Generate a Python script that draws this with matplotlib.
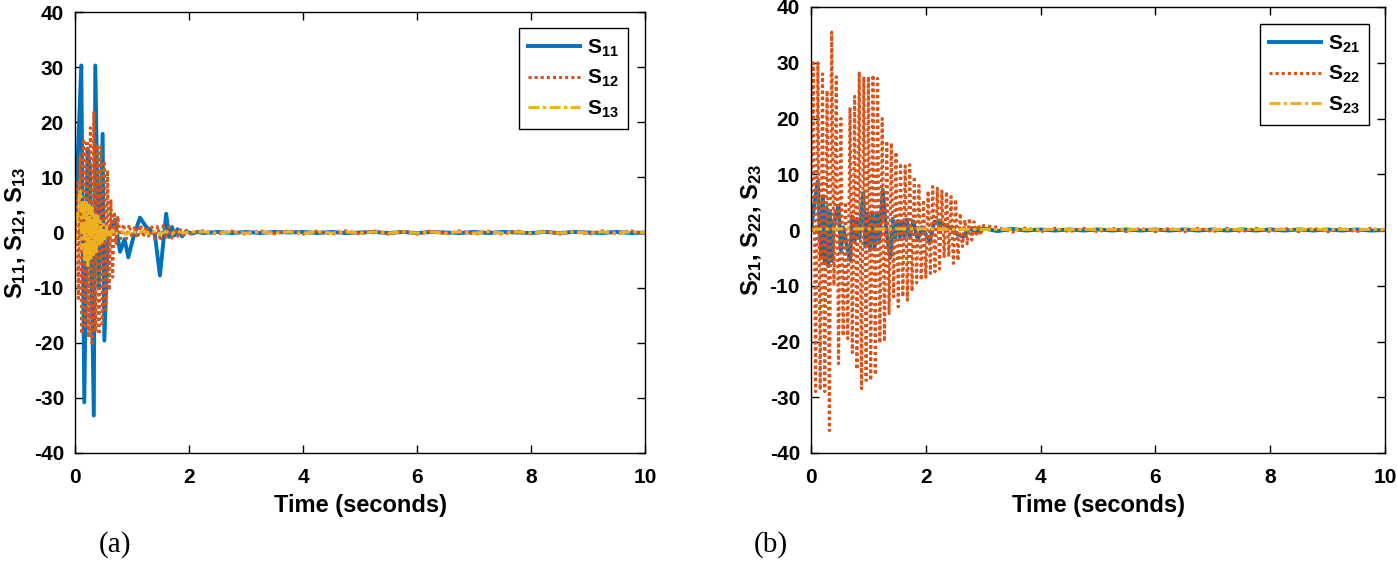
import matplotlib
matplotlib.use('Agg')
import matplotlib.pyplot as plt

# ---------------- data: panel (a) ----------------
s11_t = [0.0, 0.11, 0.163, 0.22, 0.26, 0.33, 0.356, 0.42, 0.485, 0.515, 0.58, 0.70, 0.79, 0.87,
         0.935, 1.02, 1.14, 1.25, 1.40, 1.49, 1.60, 1.65, 1.70, 1.75, 1.80, 1.88, 1.95, 2.05, 2.15]
s11_v = [0.3, 30.3, -30.8, 15.2, 12.0, -33.2, 30.3, -10.0, 17.9, -19.6, 0.0, 2.3, -3.5, -1.2,
         -4.5, -1.0, 2.7, 1.0, -0.3, -7.8, 3.4, -0.8, 1.0, -0.5, 0.6, -0.7, 0.2, -0.2, 0.1]

s12_t = [0.0, 0.03, 0.06, 0.09, 0.12, 0.15, 0.18, 0.21, 0.24, 0.27, 0.30, 0.33, 0.36, 0.39, 0.42,
         0.45, 0.48, 0.51, 0.54, 0.57, 0.60, 0.63, 0.66, 0.69, 0.72, 0.75, 0.80, 0.85, 0.90, 0.95,
         1.00, 1.05, 1.10, 1.15, 1.20, 1.25, 1.30, 1.35, 1.40, 1.45, 1.50, 1.55, 1.60, 1.65, 1.70,
         1.75, 1.80, 1.85, 1.90, 1.95, 2.00]
s12_v = [0.0, 9.0, -12.0, 14.0, -18.4, 17.0, -17.0, 16.7, -19.0, 19.0, -20.5, 21.8, -18.0, 16.0,
         -18.5, 15.5, -17.0, 13.0, -14.0, 11.3, -10.5, 6.0, -8.1, 3.7, -2.0, 3.0, -1.1, 1.5, -1.2,
         1.4, -0.9, 1.2, -1.0, 1.4, -0.8, 1.1, -0.9, 1.0, -1.2, 1.1, -1.5, 1.3, -0.9, 1.0, -1.0,
         0.7, -0.7, 0.5, -0.5, 0.4, -0.3]

s13_t = [0.0, 0.025, 0.05, 0.075, 0.1, 0.125, 0.15, 0.175, 0.2, 0.225, 0.25, 0.275, 0.3, 0.325,
         0.35, 0.375, 0.4, 0.425, 0.45, 0.475, 0.5, 0.525, 0.55, 0.575, 0.6, 0.625, 0.65,
         0.7, 0.8, 0.9, 1.0, 1.1, 1.2, 1.3, 1.4, 1.5, 1.6, 1.7, 1.8, 1.9, 2.0]
s13_v = [-2.0, 1.0, 4.0, 6.5, 7.5, -3.0, 6.0, -5.5, 5.5, -6.0, 5.0, -5.0, 4.5, -4.0, 3.5, -3.5,
         3.0, -2.5, 2.0, -2.0, 1.5, -1.2, 1.0, -0.8, 0.6, -0.5, 0.4,
         -0.3, 0.3, -0.3, 0.3, -0.2, 0.3, -0.2, 0.2, -0.3, 0.2, -0.2, 0.2, -0.1, 0.1]

tail_t_a = [2.25, 2.5, 2.75, 3.0, 3.25, 3.5, 3.75, 4.0, 4.25, 4.5, 4.75, 5.0, 5.25, 5.5, 5.75, 6.0,
            6.25, 6.5, 6.75, 7.0, 7.25, 7.5, 7.75, 8.0, 8.25, 8.5, 8.75, 9.0, 9.25, 9.5, 9.75, 10.0]
s11_tail = [-0.1, 0.1, -0.1, 0.1, -0.1, 0.1, 0.0, 0.1, -0.1, 0.1, -0.1, 0.0, 0.1, -0.1, 0.1, -0.1,
            0.1, 0.0, -0.1, 0.1, -0.1, 0.1, 0.0, -0.1, 0.1, -0.1, 0.1, 0.0, -0.1, 0.1, -0.1, 0.0]
s12_tail = [0.3, -0.3, 0.25, -0.3, 0.3, -0.25, 0.3, -0.3, 0.25, -0.3, 0.3, -0.25, 0.3, -0.3, 0.25,
            -0.3, 0.3, -0.25, 0.3, -0.3, 0.25, -0.3, 0.3, -0.25, 0.3, -0.3, 0.25, -0.3, 0.3, -0.25,
            0.3, -0.2]
s13_tail = [0.1, -0.1, 0.1, -0.1, 0.1, -0.1, 0.1, -0.1, 0.1, -0.1, 0.1, -0.1, 0.1, -0.1, 0.1, -0.1,
            0.1, -0.1, 0.1, -0.1, 0.1, -0.1, 0.1, -0.1, 0.1, -0.1, 0.1, -0.1, 0.1, -0.1, 0.1, 0.0]

# ---------------- data: panel (b) ----------------
s21_t = [0.0, 0.05, 0.117, 0.15, 0.18, 0.21, 0.24, 0.27, 0.30, 0.33, 0.36, 0.40, 0.44, 0.48, 0.52,
         0.56, 0.62, 0.68, 0.72, 0.76, 0.80, 0.84, 0.91, 0.95, 0.99, 1.03, 1.07, 1.11, 1.15, 1.19,
         1.25, 1.31, 1.38, 1.43, 1.47, 1.51, 1.55, 1.59, 1.63, 1.67, 1.72, 1.78, 1.86, 1.93, 2.0,
         2.07, 2.15, 2.25, 2.35, 2.45, 2.55, 2.65, 2.75, 2.9, 3.0]
s21_v = [0.0, 4.0, 8.7, 1.0, -5.0, 6.0, -6.0, 4.0, -6.5, 3.0, -5.5, 1.0, 3.0, 4.2, -3.6,
         0.5, -2.5, -5.4, 2.4, -2.1, 2.0, -1.5, 6.6, -3.0, 3.0, -3.6, 3.0, -3.0, 3.0, -2.0,
         7.2, 0.0, -5.0, 1.8, -1.4, 1.6, -1.2, 1.5, -1.4, 1.8, -1.2, 1.6, -1.8, 0.5, -0.8,
         -2.0, 1.5, 1.2, 0.8, 0.3, -0.8, -1.2, 0.2, -0.3, 0.3]

s22_t = [0.00, 0.04, 0.08, 0.12, 0.16, 0.20, 0.24, 0.28, 0.32, 0.36, 0.40, 0.44, 0.48, 0.52, 0.56,
         0.60, 0.64, 0.68, 0.72, 0.76, 0.80, 0.84, 0.88, 0.92, 0.96, 1.00, 1.04, 1.08, 1.12, 1.16,
         1.20, 1.24, 1.28, 1.32, 1.36, 1.40, 1.44, 1.48, 1.52, 1.56, 1.60, 1.64, 1.68, 1.72, 1.76,
         1.80, 1.84, 1.88, 1.92, 1.96, 2.00, 2.04, 2.08, 2.12, 2.16, 2.20, 2.24, 2.28, 2.32, 2.36,
         2.40, 2.44, 2.48, 2.52, 2.56, 2.60, 2.64, 2.68, 2.72, 2.76, 2.80, 2.84, 2.88, 2.92, 2.96,
         3.00]
s22_v = [0.0, 30.0, -29.0, 30.0, -28.7, 28.0, -29.0, 25.0, -36.0, 35.5, -10.0, 27.5, -24.0, 20.0,
         -19.0, 5.0, -19.5, 22.0, -22.0, 24.0, -25.0, 28.4, -28.5, 27.5, -27.0, 27.5, -27.0, 27.8,
         -26.0, 27.2, -20.3, 20.0, -20.0, 16.0, -15.0, 15.6, -12.0, 14.0, -13.8, 12.0, -12.0, 11.5,
         -12.6, 11.7, -11.0, 9.6, -9.5, 8.0, -9.0, 5.4, -8.5, 7.0, -7.8, 7.8, -7.5, 7.5, -7.0, 7.0,
         -5.0, 6.9, -4.8, 6.0, -6.0, 5.5, -5.5, 3.0, -3.0, 1.8, -2.5, 2.1, -1.8, 1.5, -1.2, 1.0,
         -0.9, 0.8]

s23_t = [0.0, 0.5, 1.0, 1.5, 2.0, 2.5, 3.0]
s23_v = [0.1, 0.2, 0.2, 0.2, 0.2, 0.1, 0.1]

tail_t_b = [3.25, 3.5, 3.75, 4.0, 4.25, 4.5, 4.75, 5.0, 5.25, 5.5, 5.75, 6.0, 6.25, 6.5, 6.75, 7.0,
            7.25, 7.5, 7.75, 8.0, 8.25, 8.5, 8.75, 9.0, 9.25, 9.5, 9.75, 10.0]
s21_tail = [-0.2, 0.2, -0.1, 0.1, -0.1, 0.1, -0.1, 0.1, -0.1, 0.1, -0.1, 0.1, -0.1, 0.1, -0.1, 0.1,
            -0.1, 0.1, -0.1, 0.1, -0.1, 0.1, -0.1, 0.1, -0.1, 0.1, -0.1, 0.0]
s22_tail = [0.5, -0.4, 0.4, -0.3, 0.3, -0.3, 0.3, -0.3, 0.3, -0.3, 0.3, -0.3, 0.3, -0.3, 0.3, -0.3,
            0.3, -0.3, 0.3, -0.3, 0.3, -0.3, 0.3, -0.3, 0.3, -0.3, 0.3, -0.2]
s23_tail = [0.1, 0.1, 0.1, 0.1, 0.1, 0.1, 0.1, 0.1, 0.1, 0.1, 0.1, 0.1, 0.1, 0.1, 0.1, 0.1,
            0.1, 0.1, 0.1, 0.1, 0.1, 0.1, 0.1, 0.1, 0.1, 0.1, 0.1, 0.1]

x_ticks = [0, 2, 4, 6, 8, 10]
y_ticks = [-40, -30, -20, -10, 0, 10, 20, 30, 40]
labels_a = ['S$_{11}$', 'S$_{12}$', 'S$_{13}$']
labels_b = ['S$_{21}$', 'S$_{22}$', 'S$_{23}$']
ylabel_a = 'S$_{11}$, S$_{12}$, S$_{13}$'
ylabel_b = 'S$_{21}$, S$_{22}$, S$_{23}$'

# ---------------- style ----------------
sans = 'Liberation Sans'
plt.rcParams['font.family'] = [sans, 'DejaVu Sans']
plt.rcParams['font.weight'] = 'bold'
plt.rcParams['axes.unicode_minus'] = False
plt.rcParams['mathtext.fontset'] = 'custom'
plt.rcParams['mathtext.bf'] = sans + ':bold'
plt.rcParams['mathtext.rm'] = sans + ':bold'
plt.rcParams['mathtext.it'] = sans + ':bold'
plt.rcParams['mathtext.default'] = 'rm'

C_BLUE = '#0072BD'
C_ORANGE = '#D95319'
C_YELLOW = '#EDB120'

fig = plt.figure(figsize=(13.97, 5.64), dpi=100)
axa = fig.add_axes([75 / 1397, 111 / 564, 570 / 1397, 441 / 564])
axb = fig.add_axes([811 / 1397, 111 / 564, 574 / 1397, 446 / 564])


def draw(ax, series, labels, ylabel, leg_anchor):
    handles = []
    styles = [dict(color=C_BLUE, lw=2.8, ls='-'),
              dict(color=C_ORANGE, lw=2.2, ls=(0, (1, 1))),
              dict(color=C_YELLOW, lw=2.2, ls=(0, (3.6, 1.1, 1.1, 1.1)))]
    for (t, v), st in zip(series, styles):
        h, = ax.plot(t, v, **st)
        handles.append(h)
    ax.set_xlim(0, 10)
    ax.set_ylim(-40, 40)
    ax.set_xticks(x_ticks)
    ax.set_yticks(y_ticks)
    ax.tick_params(direction='in', top=True, right=True, length=6, width=1,
                   labelsize=15)
    ax.tick_params(axis='x', pad=11)
    ax.tick_params(axis='y', pad=8)
    for lab in ax.get_xticklabels() + ax.get_yticklabels():
        lab.set_fontweight('bold')
    for sp in ax.spines.values():
        sp.set_linewidth(1.0)
    ax.set_xlabel('Time (seconds)', fontsize=17, fontweight='bold', labelpad=5)
    ax.set_ylabel(ylabel, fontsize=17, fontweight='bold', labelpad=4)
    leg = ax.legend(handles, labels, loc='upper right', bbox_to_anchor=leg_anchor,
                    frameon=True, fancybox=False, edgecolor='black', framealpha=1,
                    fontsize=15, handlelength=2.5, handletextpad=0.3,
                    labelspacing=0.45, borderpad=0.45, borderaxespad=0)
    leg.get_frame().set_linewidth(1.0)


draw(axa,
     [(s11_t + tail_t_a, s11_v + s11_tail),
      (s12_t + tail_t_a, s12_v + s12_tail),
      (s13_t + tail_t_a, s13_v + s13_tail)],
     labels_a, ylabel_a, (0.970, 0.9637))
draw(axb,
     [(s21_t + tail_t_b, s21_v + s21_tail),
      (s22_t + tail_t_b, s22_v + s22_tail),
      (s23_t + tail_t_b, s23_v + s23_tail)],
     labels_b, ylabel_b, (0.972, 0.962))

fig.text(115 / 1397, 1 - 545 / 564, '(a)', family='Liberation Serif', fontsize=21,
         fontweight='normal', ha='center', va='center')
fig.text(771 / 1397, 1 - 545 / 564, '(b)', family='Liberation Serif', fontsize=21,
         fontweight='normal', ha='center', va='center')

fig.savefig('out.png', dpi=100)
